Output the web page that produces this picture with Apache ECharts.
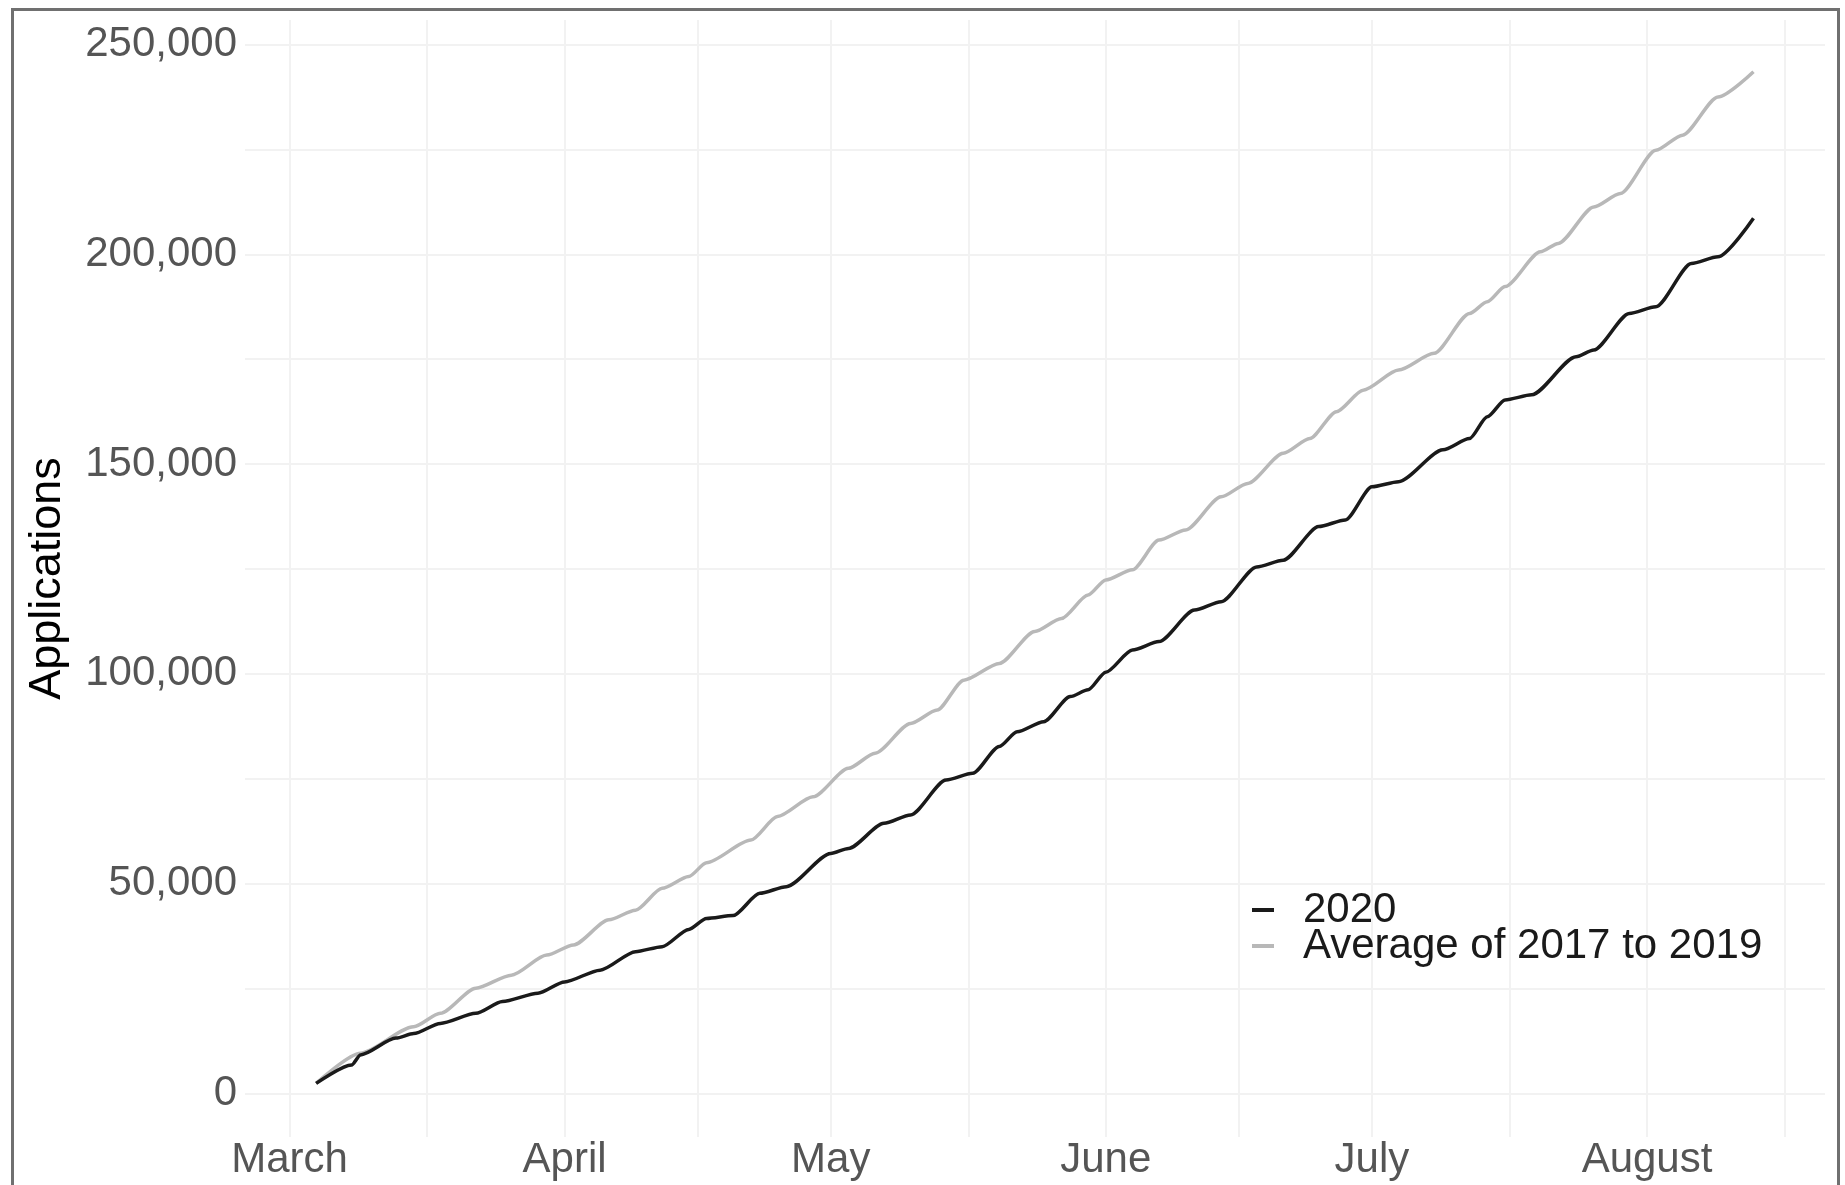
<!DOCTYPE html>
<html><head><meta charset="utf-8">
<script src="https://cdn.jsdelivr.net/npm/echarts@6/dist/echarts.min.js"></script>
<style>html,body{margin:0;padding:0;background:#fff}#c{width:1845px;height:1185px}</style>
</head><body><div id="c"></div>
<script>
// Month boundaries (x-axis breaks) and their labels
const monthStarts = ['2020-03-01','2020-04-01','2020-05-01','2020-06-01','2020-07-01','2020-08-01','2020-09-01'];
const monthNames = ['January','February','March','April','May','June','July','August','September','October','November','December'];
// Y-axis tick labels
const yLabels = [0, 50000, 100000, 150000, 200000, 250000];
const yGrid = [0, 25000, 50000, 75000, 100000, 125000, 150000, 175000, 200000, 225000, 250000];

// Series: 2020
const dates2020 = ['2020-03-04','2020-03-08','2020-03-09','2020-03-13','2020-03-15','2020-03-18','2020-03-22','2020-03-25','2020-03-29',
  '2020-04-01','2020-04-05','2020-04-09','2020-04-12','2020-04-15','2020-04-17','2020-04-20','2020-04-23','2020-04-26',
  '2020-05-01','2020-05-03','2020-05-07','2020-05-10','2020-05-14','2020-05-17','2020-05-20','2020-05-22','2020-05-25','2020-05-28','2020-05-30',
  '2020-06-01','2020-06-04','2020-06-07','2020-06-11','2020-06-14','2020-06-18','2020-06-21','2020-06-25','2020-06-28',
  '2020-07-01','2020-07-04','2020-07-09','2020-07-12','2020-07-14','2020-07-16','2020-07-19','2020-07-24','2020-07-26','2020-07-30',
  '2020-08-02','2020-08-06','2020-08-09','2020-08-13'];
const values2020 = [2400,6800,9200,13200,14300,16700,19100,21900,23900,
  26600,29400,33800,35000,39100,41700,42400,47700,49300,
  57200,58400,64400,66400,74700,76300,82700,86200,88600,94600,96200,
  100400,105700,107700,115200,117200,125500,127100,135100,136700,
  144600,145800,153400,156100,161300,165300,166500,175600,177200,185900,
  187500,197800,199400,208600];

// Series: Average of 2017 to 2019
const datesAvg = ['2020-03-04','2020-03-09','2020-03-15','2020-03-18','2020-03-22','2020-03-26','2020-03-30',
  '2020-04-02','2020-04-06','2020-04-09','2020-04-12','2020-04-15','2020-04-17','2020-04-22','2020-04-25','2020-04-29',
  '2020-05-03','2020-05-06','2020-05-10','2020-05-13','2020-05-16','2020-05-20','2020-05-24','2020-05-27','2020-05-30',
  '2020-06-01','2020-06-04','2020-06-07','2020-06-10','2020-06-14','2020-06-17','2020-06-21','2020-06-24','2020-06-27','2020-06-30',
  '2020-07-04','2020-07-08','2020-07-12','2020-07-14','2020-07-16','2020-07-20','2020-07-22','2020-07-26','2020-07-29',
  '2020-08-02','2020-08-05','2020-08-09','2020-08-13'];
const valuesAvg = [2400,9600,15900,19100,25100,28200,33000,
  35400,41400,43700,48900,51700,55000,60400,66000,70700,
  77500,81100,88200,91400,98500,102500,110100,113200,118800,
  122400,124800,131900,134300,142200,145400,152600,156100,162500,167600,
  172400,176400,185900,188700,192300,200600,202600,211300,214500,
  224800,228400,237500,243500];

const seriesNames = ['2020', 'Average of 2017 to 2019'];

const ts = s => { const p = s.split('-'); return Date.UTC(+p[0], +p[1]-1, +p[2]); };
const monthTs = monthStarts.map(ts);
const xGrid = [];
for (let i = 0; i < monthTs.length - 1; i++) { xGrid.push(monthTs[i]); xGrid.push((monthTs[i] + monthTs[i+1]) / 2); }
const DAY = 86400000;
const xMin = ts('2020-03-01') - 5.015 * DAY;
const xMax = ts('2020-03-01') + 173.06 * DAY;

const FONT = 'Liberation Sans, Arial, sans-serif';
const gridLine = {show: true, lineStyle: {color: '#f2f2f2', width: 2}};

const chart = echarts.init(document.getElementById('c'), null, {renderer: 'canvas'});
chart.setOption({
  animation: false,
  backgroundColor: '#ffffff',
  graphic: [{type: 'rect', z: 100, silent: true,
    shape: {x: 12.5, y: 9.5, width: 1826, height: 1200},
    style: {fill: 'none', stroke: '#707070', lineWidth: 3}}],
  grid: {left: 245, right: 20, top: 20, bottom: 48, containLabel: false, outerBoundsMode: 'none'},
  legend: {
    left: 1247, top: 884, orient: 'vertical', itemGap: -6, itemWidth: 22, itemHeight: 4, icon: 'rect',
    textStyle: {fontSize: 42, color: '#1a1a1a', lineHeight: 36, padding: [0, 0, 0, 24], fontFamily: FONT},
    data: seriesNames
  },
  xAxis: {
    type: 'value', min: xMin, max: xMax,
    axisLine: {show: false},
    axisTick: {show: false, customValues: xGrid},
    splitLine: gridLine,
    axisLabel: {customValues: monthTs, fontSize: 42, color: '#555555', fontFamily: FONT, margin: 2,
      formatter: v => monthNames[new Date(v).getUTCMonth()], hideOverlap: false}
  },
  yAxis: {
    type: 'value', min: -10370, max: 255840,
    name: 'Applications', nameLocation: 'middle', nameRotate: 90, nameGap: 175,
    nameTextStyle: {fontSize: 45, color: '#000000', fontFamily: FONT},
    axisLine: {show: false},
    axisTick: {show: false, customValues: yGrid},
    splitLine: gridLine,
    axisLabel: {customValues: yLabels, fontSize: 42, color: '#555555', fontFamily: FONT, margin: 8,
      formatter: v => Number(v).toLocaleString('en-US')}
  },
  series: [
    {name: seriesNames[0], type: 'line', color: '#1a1a1a', showSymbol: false, z: 3,
      smooth: 0.25, smoothMonotone: 'x',
      lineStyle: {width: 3.5, color: '#1a1a1a'},
      data: dates2020.map((d, i) => [ts(d), values2020[i]])},
    {name: seriesNames[1], type: 'line', color: '#b8b8b8', showSymbol: false, z: 2,
      smooth: 0.25, smoothMonotone: 'x',
      lineStyle: {width: 3.5, color: '#b8b8b8'},
      data: datesAvg.map((d, i) => [ts(d), valuesAvg[i]])}
  ]
});
</script></body></html>
